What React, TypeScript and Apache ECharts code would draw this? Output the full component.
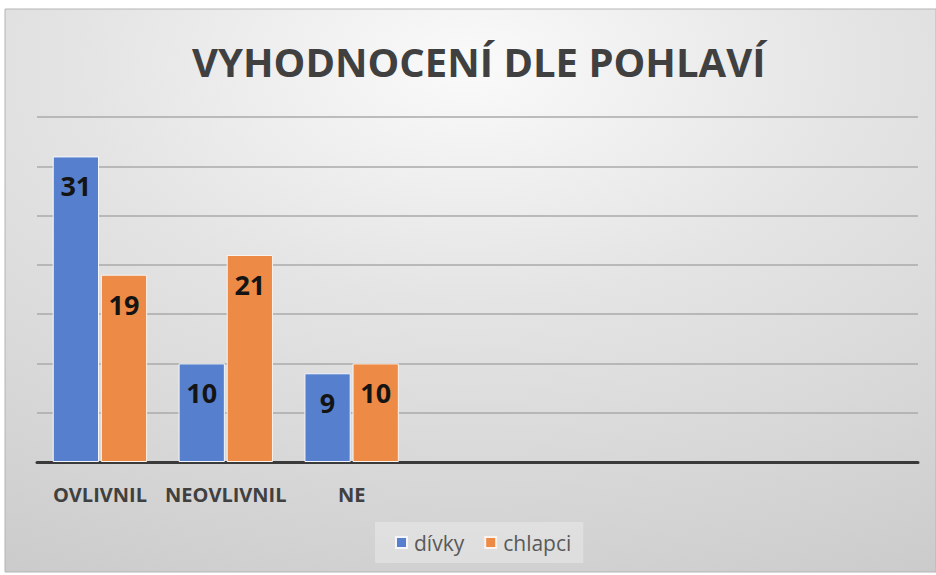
import React, { useEffect, useRef } from "react";
import * as echarts from "echarts";

const titleText = "VYHODNOCENÍ DLE POHLAVÍ";
const categories = ["OVLIVNIL", "NEOVLIVNIL", "NE", "", "", "", ""];
const seriesNames = ["dívky", "chlapci"];
const divkyValues: (number | string)[] = [31, 10, 9, "-", "-", "-", "-"];
const chlapciValues: (number | string)[] = [19, 21, 10, "-", "-", "-", "-"];
const yMin = 0;
const yMax = 35;
const yInterval = 5;

const FONT = "'Open Sans', 'Noto Sans', sans-serif";

export default function App() {
  const ref = useRef<HTMLDivElement>(null);
  useEffect(() => {
    if (!ref.current) return;
    const chart = echarts.init(ref.current, null, { renderer: "svg" });
    const labelStyle = {
      show: true,
      position: "insideTop" as const,
      distance: 16,
      fontFamily: FONT,
      fontWeight: "bold" as const,
      fontSize: 27,
      color: "#141414",
    };
    chart.setOption({
      animation: false,
      backgroundColor: "#ffffff",
      graphic: [
        {
          type: "rect",
          z: -10,
          silent: true,
          shape: { x: 5, y: 9, width: 931, height: 563 },
          style: {
            fill: {
              type: "radial",
              x: 0.5,
              y: 0.1,
              r: 1.24,
              colorStops: [
                { offset: 0, color: "#fafafa" },
                { offset: 0.34, color: "#e4e4e4" },
                { offset: 0.7, color: "#d2d2d2" },
                { offset: 0.96, color: "#c4c4c4" },
                { offset: 1, color: "#c2c2c2" },
              ],
              global: false,
            },
            stroke: "#b4b4b4",
            lineWidth: 1,
          },
        },
      ],
      title: {
        text: titleText,
        left: 187,
        top: 36,
        textStyle: {
          fontFamily: FONT,
          fontWeight: "bold",
          fontSize: 40,
          color: "#404040",
        },
      },
      legend: {
        data: seriesNames,
        left: 375,
        top: 522,
        icon: "rect",
        itemWidth: 11,
        itemHeight: 11,
        itemGap: 20,
        padding: [10, 12, 10, 20],
        backgroundColor: "rgba(255,255,255,0.28)",
        textStyle: {
          fontFamily: FONT,
          fontSize: 21,
          color: "#595959",
          padding: [0, 0, 0, 2],
        },
      },
      grid: { left: 37, right: 18, top: 117, bottom: 113, containLabel: false },
      xAxis: {
        type: "category",
        data: categories,
        axisLine: { show: true, lineStyle: { color: "#3a3a3a", width: 3 } },
        axisTick: { show: false },
        axisLabel: {
          interval: 0,
          margin: 22,
          fontFamily: FONT,
          fontWeight: "bold",
          fontSize: 20,
          color: "#404040",
        },
        splitLine: { show: false },
      },
      yAxis: {
        type: "value",
        min: yMin,
        max: yMax,
        interval: yInterval,
        axisLine: { show: false },
        axisTick: { show: false },
        axisLabel: { show: false },
        splitLine: { show: true, lineStyle: { color: "#aaaaaa", width: 1.5 } },
      },
      series: [
        {
          name: seriesNames[0],
          type: "bar",
          data: divkyValues,
          barCategoryGap: "25%",
          barGap: "4%",
          itemStyle: { color: "#5680cd", borderColor: "#f4f6fb", borderWidth: 1 },
          label: labelStyle,
        },
        {
          name: seriesNames[1],
          type: "bar",
          data: chlapciValues,
          barCategoryGap: "25%",
          barGap: "4%",
          itemStyle: { color: "#ec8a46", borderColor: "#fbf3ee", borderWidth: 1 },
          label: labelStyle,
        },
      ],
    });
    return () => chart.dispose();
  }, []);
  return (
    <div
      ref={ref}
      style={{ position: "absolute", left: 0, top: 0, width: 936, height: 575 }}
    />
  );
}
